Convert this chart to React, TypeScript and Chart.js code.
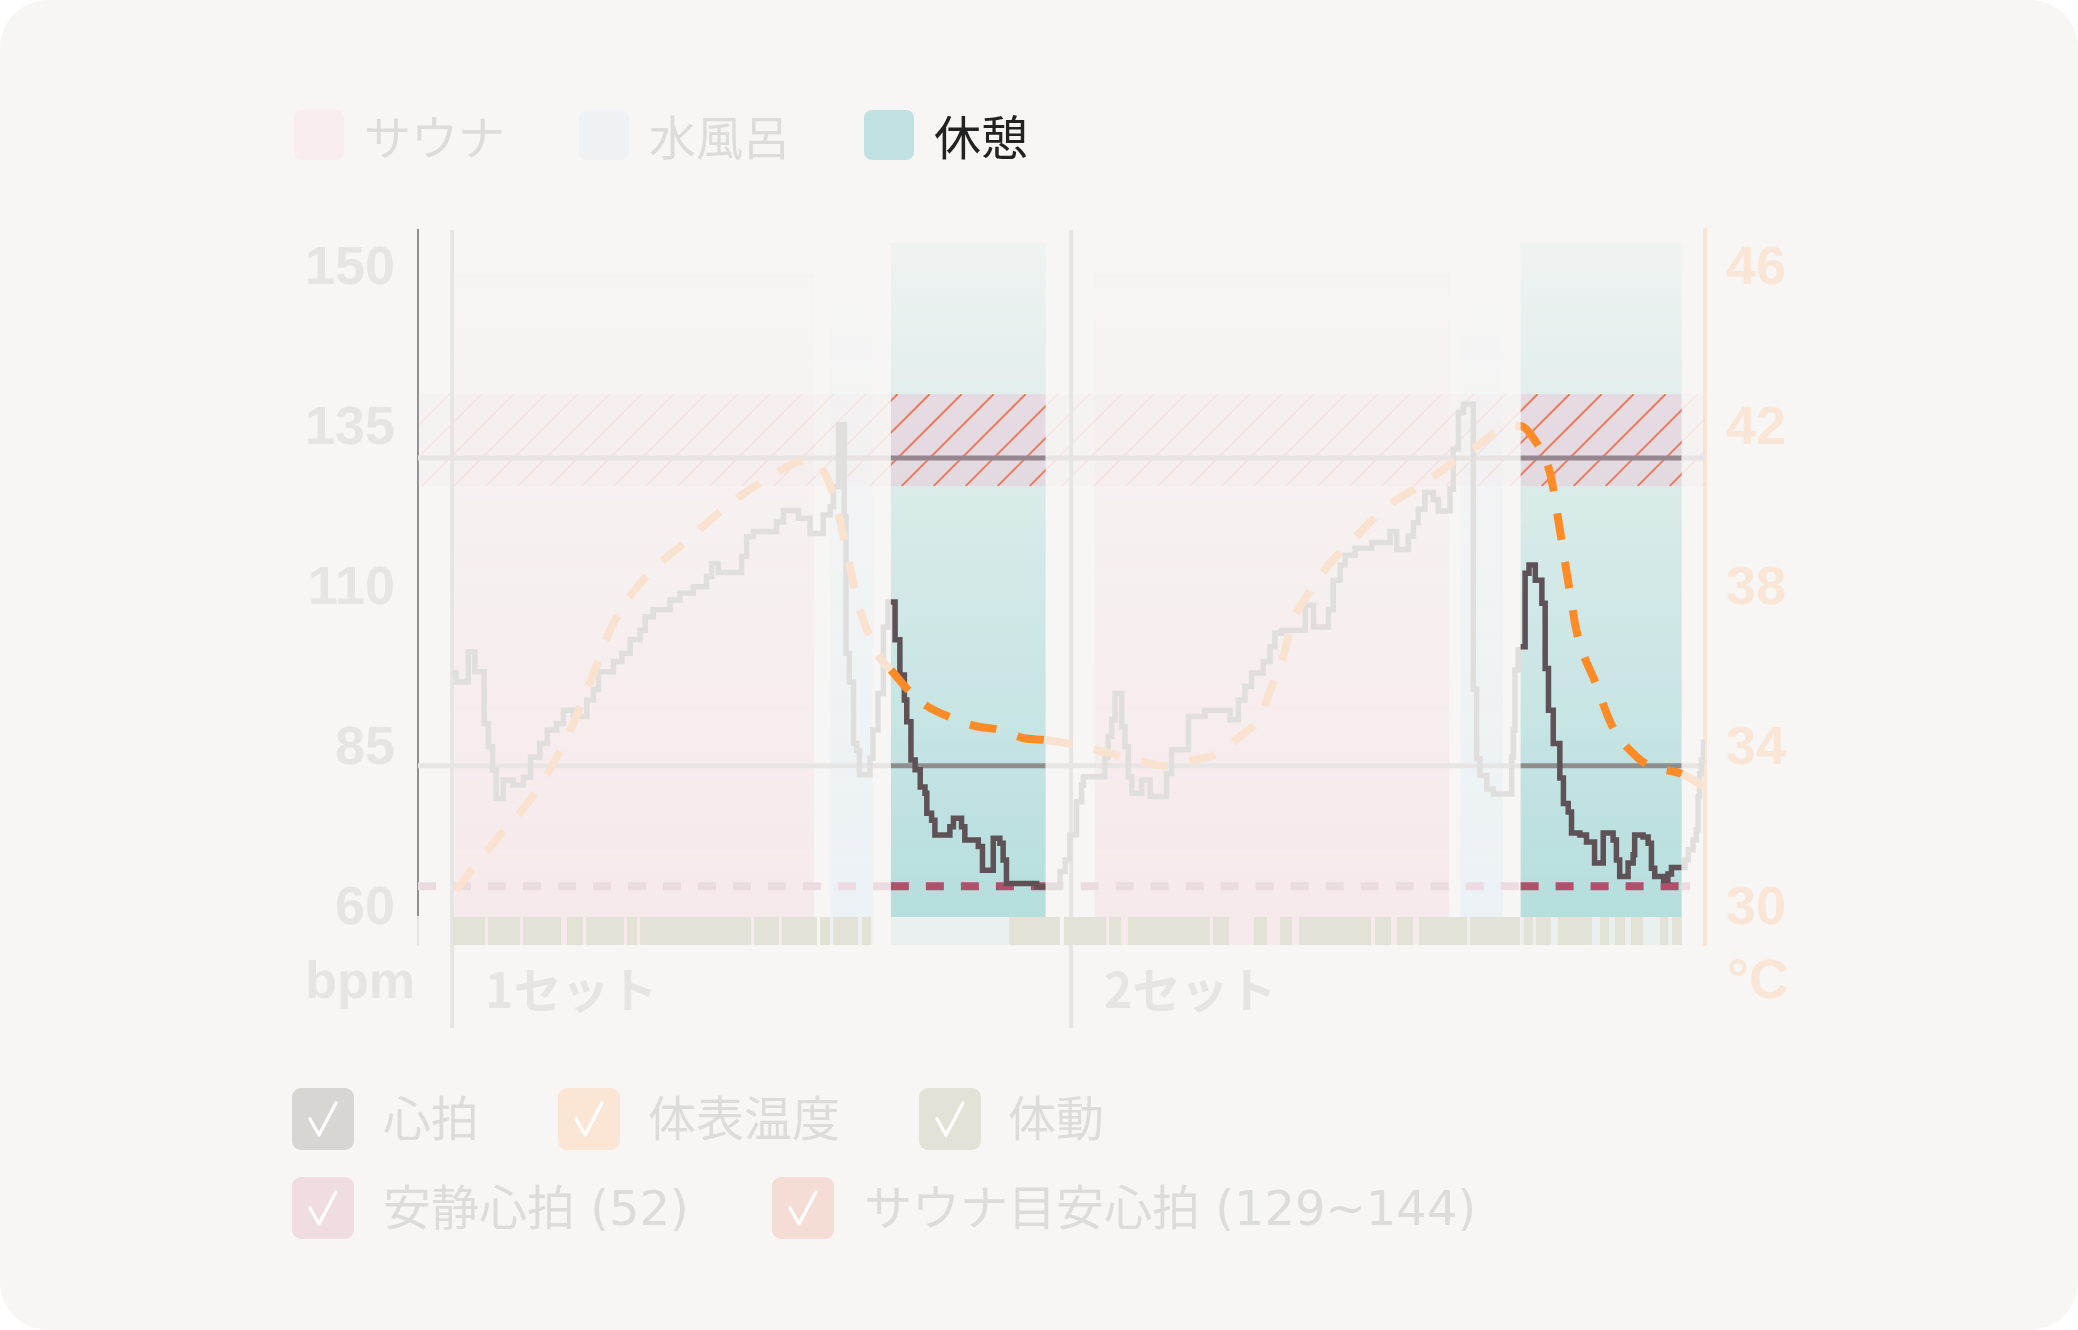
import React, { useEffect, useRef } from 'react';
import Chart from 'chart.js/auto';

// ---------- data ----------
const X_MAX = 43; // minutes shown
const SET_START = [1.14, 21.82];
const SET_LABELS = ['1セット', '2セット'];

const PHASE_KIND = ['sauna', 'water', 'rest', 'sauna', 'water', 'rest'];
const PHASE_START = [1.23, 13.77, 15.8, 22.61, 34.83, 36.84];
const PHASE_END = [13.23, 15.19, 20.97, 34.45, 36.25, 42.22];

const HR_TICK_VALUES = [60, 85, 110, 135, 160];
const HR_TICK_LABELS = ['60', '85', '110', '135', '150'];
const TEMP_TICKS = [30, 34, 38, 42, 46];

const HR_TIME = [
  1.15, 1.27, 1.68, 1.9, 2.21, 2.35, 2.49, 2.61, 2.85, 3.18, 3.52, 3.76, 4.07, 4.32, 4.63, 4.86, 5.19, 5.64, 5.86, 6.03,
  6.53, 6.81, 7.09, 7.42, 7.59, 7.86, 8.42, 8.75, 9.2, 9.64, 9.81, 10.03, 10.81, 10.98, 11.2, 11.98, 12.21, 12.71, 13.1,
  13.54, 13.77, 13.88, 14.05, 14.24, 14.3, 14.41, 14.55, 14.66, 14.75, 15.1, 15.2, 15.37, 15.55, 15.7, 15.8, 15.94, 16.1,
  16.25, 16.33, 16.47, 16.61, 16.78, 16.94, 17.0, 17.16, 17.27, 17.77, 17.89, 18.16, 18.27, 18.72, 18.86, 19.22, 19.44,
  19.55, 19.66, 20.67, 20.97, 21.45, 21.62, 21.78, 22.0, 22.17, 22.23, 22.95, 23.06, 23.18, 23.29, 23.51, 23.62, 23.73,
  23.85, 24.18, 24.46, 25.01, 25.18, 25.74, 26.29, 27.13, 27.41, 27.63, 27.85, 28.24, 28.47, 28.63, 28.86, 29.64, 29.92,
  30.42, 30.58, 30.81, 30.97, 31.31, 31.86, 32.48, 32.7, 33.09, 33.26, 33.42, 33.64, 33.92, 34.09, 34.48, 34.59, 34.76,
  34.93, 35.26, 35.37, 35.48, 35.71, 35.93, 36.54, 36.6, 36.65, 36.76, 36.84, 36.99, 37.12, 37.33, 37.55, 37.66, 37.77,
  37.93, 38.15, 38.27, 38.43, 38.54, 38.82, 39.04, 39.31, 39.6, 39.93, 40.04, 40.15, 40.43, 40.6, 40.65, 40.93, 41.1,
  41.21, 41.32, 41.62, 41.76, 41.88, 42.22, 42.33, 42.44, 42.6, 42.71, 42.77, 42.82, 42.88, 42.95,
];
const HR_BPM = [
  96.5, 95.0, 99.7, 96.6, 88.5, 84.9, 81.3, 76.8, 79.7, 78.9, 80.1, 83.3, 85.4, 87.5, 88.5, 90.6, 89.6, 92.2, 93.8, 96.6,
  98.2, 99.5, 101.6, 103.1, 105.2, 106.3, 107.8, 108.9, 109.9, 111.5, 113.5, 112.1, 114.6, 117.7, 118.5, 120.0, 121.8,
  120.6, 118.2, 121.1, 122.4, 125.5, 135.2, 120.8, 99.5, 95.0, 85.4, 84.3, 80.5, 83.1, 87.5, 93.2, 103.6, 107.5, 107.5,
  101.6, 96.1, 92.2, 88.8, 82.8, 81.3, 78.6, 77.6, 74.5, 73.4, 71.1, 72.4, 73.7, 72.4, 70.3, 69.3, 65.6, 70.6, 69.8, 67.2,
  63.5, 63.0, 63.0, 65.4, 67.2, 71.1, 76.3, 78.9, 80.2, 83.3, 86.5, 89.1, 93.2, 88.0, 84.9, 80.2, 77.6, 79.7, 77.1, 80.7,
  84.4, 89.6, 90.6, 89.1, 92.2, 94.3, 96.4, 98.2, 100.5, 102.6, 103.1, 107.0, 103.6, 106.3, 110.9, 113.3, 114.8, 115.9,
  116.8, 118.5, 115.7, 117.8, 119.9, 122.0, 124.6, 123.5, 121.7, 125.1, 131.4, 137.1, 138.4, 93.9, 83.0, 80.4, 78.3, 77.5,
  83.3, 87.5, 96.9, 100.0, 100.5, 112.0, 113.3, 110.9, 107.3, 97.1, 90.6, 85.4, 80.0, 76.0, 74.7, 71.4, 71.1, 70.0, 66.7,
  71.4, 70.3, 67.2, 64.6, 66.7, 68.0, 71.1, 70.8, 69.8, 65.9, 64.6, 64.0, 65.0, 66.0, 66.0, 67.2, 68.8, 70.3, 71.9, 77.1,
  80.7, 82.8, 86.0,
];

const TEMP_TIME = [
  1.27, 2.54, 3.74, 4.94, 5.78, 6.48, 7.52, 9.02, 10.32, 11.59, 13.03, 13.53, 13.93, 14.37, 14.77, 15.44, 15.8, 16.44,
  17.0, 17.84, 18.61, 19.45, 20.21, 20.97, 21.85, 22.69, 23.45, 24.22, 25.03, 25.89, 26.7, 27.56, 28.13, 28.53, 28.87,
  29.24, 29.57, 30.04, 30.57, 31.24, 31.81, 32.58, 33.24, 34.05, 34.58, 35.38, 35.92, 36.59, 36.84, 37.26, 37.83, 38.13,
  38.43, 38.73, 39.33, 39.9, 40.76, 41.17, 42.22, 42.94,
];
const TEMP_C = [
  30.4, 31.6, 32.65, 34.15, 35.65, 37.0, 38.15, 39.15, 40.0, 40.65, 41.15, 40.9, 40.15, 38.7, 37.4, 36.2, 35.9, 35.35,
  35.0, 34.7, 34.5, 34.4, 34.2, 34.15, 34.05, 33.9, 33.75, 33.6, 33.5, 33.65, 33.8, 34.3, 34.7, 35.5, 36.15, 37.15, 37.6,
  38.15, 38.65, 39.15, 39.6, 40.1, 40.4, 40.8, 41.1, 41.5, 41.8, 42.0, 42.0, 41.7, 40.8, 39.5, 38.1, 36.8, 35.6, 34.5,
  33.7, 33.5, 33.3, 33.0,
];

const RESTING_HR_LINE = 63.1;
const RESTING_HR_SPAN = [0, 42.5];
const SAUNA_TARGET_BAND = [125.6, 140.0];
const GUIDE_LINES = [130.0, 81.9];

const MOTION_START = [
  1.17, 2.34, 3.51, 4.98, 5.61, 6.98, 7.42, 11.23, 12.16, 13.43, 13.87, 14.83, 19.75, 21.58, 23.09, 23.72, 26.56, 27.93,
  28.8, 29.44, 31.97, 32.71, 33.44, 35.15, 36.95, 37.35, 38.09, 39.49, 39.99, 40.53, 41.5, 41.9,
];
const MOTION_END = [
  2.24, 3.41, 4.78, 5.51, 6.88, 7.32, 11.13, 12.06, 13.33, 13.77, 14.7, 15.14, 21.45, 22.99, 23.49, 26.46, 27.1, 28.37,
  29.2, 31.84, 32.51, 33.24, 35.05, 36.82, 37.25, 37.85, 39.22, 39.79, 40.33, 40.93, 41.77, 42.23,
];

const TOP_LEGEND = ['サウナ', '水風呂', '休憩'];
const BOTTOM_LEGEND = ['心拍', '体表温度', '体動', '安静心拍 (52)', 'サウナ目安心拍 (129~144)'];

// ---------- styles ----------
const BG = '#f7f6f4';
const PHASE_STYLE: Record<string, { rgb: string; a0: number; top: number; strip: string }> = {
  sauna: { rgb: '246,233,235', a0: 0.08, top: 158.9, strip: '#f6eaec' },
  water: { rgb: '235,241,245', a0: 0.12, top: 154.2, strip: '#ecf1f4' },
  rest: { rgb: '181,222,221', a0: 0.12, top: 163.6, strip: '#eaf0ef' },
};
const TOP_LEGEND_STYLE = [
  { x: 294, tx: 364, c: '#f8ecee', t: '#dcdcdb' },
  { x: 579, tx: 649, c: '#eef2f5', t: '#dcdcdb' },
  { x: 864, tx: 934, c: '#bfe1e1', t: '#222222' },
];
const BOTTOM_LEGEND_STYLE = [
  { x: 292, y: 1088, tx: 383, c: '#d7d6d3' },
  { x: 558, y: 1088, tx: 648, c: '#fbe6d6' },
  { x: 919, y: 1088, tx: 1008, c: '#e3e2d7' },
  { x: 292, y: 1177, tx: 383, c: '#efdde1' },
  { x: 772, y: 1177, tx: 864, c: '#f5ddd6' },
];

const REST_RANGES: number[][] = PHASE_KIND.map((k, i) => (k === 'rest' ? [PHASE_START[i], PHASE_END[i]] : null)).filter(
  Boolean,
) as number[][];
const inRest = (x: number) => REST_RANGES.some(([a, b]) => x >= a && x < b);
const segColor = (hi: string, lo: string) => (ctx: any) =>
  inRest((ctx.p0.parsed.x + ctx.p1.parsed.x) / 2) ? hi : lo;

const withBounds = (y: number, span: number[]) => {
  const xs = [span[0], ...REST_RANGES.flat().filter((v) => v > span[0] && v < span[1]), span[1]];
  return xs.map((x) => ({ x, y }));
};

function drawBand(ctx: CanvasRenderingContext2D, l: number, r: number, t: number, b: number, fill: string, hatch: string, lw: number) {
  ctx.fillStyle = fill;
  ctx.fillRect(l, t, r - l, b - t);
  ctx.strokeStyle = hatch;
  ctx.lineWidth = lw;
  const h = b - t;
  const spacing = 32;
  const anchor = 481.7;
  const k = Math.floor((l - anchor) / spacing) - 1;
  ctx.beginPath();
  for (let xt = anchor + k * spacing; xt - h < r + spacing; xt += spacing) {
    ctx.moveTo(xt, t);
    ctx.lineTo(xt - h, b);
  }
  ctx.stroke();
}

const bgPlugin = {
  id: 'saunaBackground',
  beforeDatasetsDraw(chart: any) {
    const { ctx, chartArea, scales } = chart;
    const xs = scales.x;
    const yHR = scales.yHR;
    const plotBottom = yHR.bottom;
    const stripBottom = chartArea.bottom;
    ctx.save();
    PHASE_KIND.forEach((k, i) => {
      const st = PHASE_STYLE[k];
      const x0 = xs.getPixelForValue(PHASE_START[i]);
      const x1 = xs.getPixelForValue(PHASE_END[i]);
      const top = yHR.getPixelForValue(st.top);
      const g = ctx.createLinearGradient(0, top, 0, plotBottom);
      g.addColorStop(0, `rgba(${st.rgb},${st.a0})`);
      g.addColorStop(1, `rgba(${st.rgb},1)`);
      ctx.fillStyle = g;
      ctx.fillRect(x0, top, x1 - x0, plotBottom - top);
      ctx.fillStyle = st.strip;
      ctx.fillRect(x0, plotBottom, x1 - x0, stripBottom - plotBottom);
    });

    const bTop = yHR.getPixelForValue(SAUNA_TARGET_BAND[1]);
    const bBot = yHR.getPixelForValue(SAUNA_TARGET_BAND[0]);
    const left = chartArea.left;
    const right = chartArea.right;
    const restPx = REST_RANGES.map(([a, b]) => [xs.getPixelForValue(a), xs.getPixelForValue(b)]);
    ctx.save();
    ctx.beginPath();
    ctx.rect(left, bTop, right - left, bBot - bTop);
    restPx.forEach(([a, b]) => ctx.rect(a, bTop, b - a, bBot - bTop));
    ctx.clip('evenodd');
    drawBand(ctx, left, right, bTop, bBot, 'rgba(240,215,222,0.13)', 'rgba(236,140,105,0.13)', 1.5);
    ctx.restore();
    restPx.forEach(([a, b]) => {
      ctx.save();
      ctx.beginPath();
      ctx.rect(a, bTop, b - a, bBot - bTop);
      ctx.clip();
      drawBand(ctx, a, b, bTop, bBot, 'rgba(236,200,215,0.5)', '#ec7b5c', 2);
      ctx.restore();
    });

    ctx.strokeStyle = '#e6e5e3';
    ctx.lineWidth = 4;
    SET_START.forEach((s) => {
      const px = xs.getPixelForValue(s);
      ctx.beginPath();
      ctx.moveTo(px, chartArea.top);
      ctx.lineTo(px, chartArea.bottom + 83);
      ctx.stroke();
    });
    ctx.restore();
  },
  afterDraw(chart: any) {
    const { ctx, chartArea } = chart;
    ctx.save();
    ctx.font = 'bold 52px "Liberation Sans", Arial, sans-serif';
    ctx.textBaseline = 'alphabetic';
    ctx.fillStyle = '#e6e5e3';
    ctx.textAlign = 'right';
    ctx.fillText('bpm', chartArea.left - 3, chartArea.bottom + 53);
    ctx.fillStyle = '#f9e6d6';
    ctx.textAlign = 'left';
    ctx.font = 'bold 55px "Liberation Sans", Arial, sans-serif';
    ctx.fillText('°C', chartArea.right + 22, chartArea.bottom + 53);
    ctx.restore();
  },
};

function Check() {
  return (
    <svg width="62" height="62" viewBox="0 0 62 62" style={{ position: 'absolute', left: 0, top: 0 }}>
      <polyline points="18,31 27,47 44,15" fill="none" stroke="#ffffff" strokeWidth="3.2" strokeLinejoin="round" strokeLinecap="round" />
    </svg>
  );
}

export default function App() {
  const canvasRef = useRef<HTMLCanvasElement | null>(null);

  useEffect(() => {
    if (!canvasRef.current) return;
    const motionData: { x: number; y: number }[] = [];
    MOTION_START.forEach((s, i) => {
      motionData.push({ x: s, y: 1 });
      motionData.push({ x: MOTION_END[i], y: 0 });
    });
    const chart = new Chart(canvasRef.current, {
      type: 'line',
      data: {
        datasets: [
          {
            label: '体表温度',
            yAxisID: 'yTemp',
            data: TEMP_TIME.map((t, i) => ({ x: t, y: TEMP_C[i] })),
            borderColor: '#f9e3d0',
            borderWidth: 8,
            borderDash: [27, 22],
            borderCapStyle: 'butt',
            cubicInterpolationMode: 'monotone',
            pointRadius: 0,
            fill: false,
            segment: { borderColor: segColor('#ff8b26', '#f9e3d0') },
          } as any,
          {
            label: '心拍',
            yAxisID: 'yHR',
            data: HR_TIME.map((t, i) => ({ x: t, y: HR_BPM[i] })),
            stepped: 'before',
            borderColor: '#e0dfdd',
            borderWidth: 5.5,
            borderJoinStyle: 'miter',
            borderCapStyle: 'butt',
            pointRadius: 0,
            fill: false,
            segment: { borderColor: segColor('#5e5256', '#e0dfdd') },
          } as any,
          {
            label: '安静心拍',
            yAxisID: 'yHR',
            data: withBounds(RESTING_HR_LINE, RESTING_HR_SPAN),
            borderColor: '#ecdce1',
            borderWidth: 8,
            borderDash: [18, 17],
            borderCapStyle: 'butt',
            pointRadius: 0,
            fill: false,
            segment: { borderColor: segColor('#b44f6b', '#ecdce1') },
          } as any,
          {
            label: 'guideHigh',
            yAxisID: 'yHR',
            data: withBounds(GUIDE_LINES[0], [0, X_MAX]),
            borderColor: '#e8e4e3',
            borderWidth: 5,
            pointRadius: 0,
            fill: false,
            segment: { borderColor: segColor('#958690', '#e8e4e3') },
          } as any,
          {
            label: 'guideLow',
            yAxisID: 'yHR',
            data: withBounds(GUIDE_LINES[1], [0, X_MAX]),
            borderColor: '#e8e6e4',
            borderWidth: 5,
            pointRadius: 0,
            fill: false,
            segment: { borderColor: segColor('#8e8e8e', '#e8e6e4') },
          } as any,
          {
            label: '体動',
            yAxisID: 'yMotion',
            data: motionData,
            stepped: 'before',
            borderWidth: 0,
            borderColor: 'rgba(0,0,0,0)',
            backgroundColor: '#e3e2d7',
            pointRadius: 0,
            fill: 'origin',
          } as any,
        ],
      },
      options: {
        responsive: false,
        maintainAspectRatio: false,
        animation: false,
        events: [],
        layout: { padding: { top: 230, left: 0, right: 0, bottom: 0 } },
        plugins: { legend: { display: false }, tooltip: { enabled: false }, title: { display: false } },
        scales: {
          x: {
            type: 'linear',
            min: 0,
            max: X_MAX,
            grid: { display: false, drawTicks: false },
            border: { display: false },
            afterBuildTicks: (s: any) => {
              s.ticks = SET_START.map((v) => ({ value: v }));
            },
            afterFit: (s: any) => {
              s.height = 385;
            },
            ticks: {
              autoSkip: false,
              maxRotation: 0,
              align: 'start',
              labelOffset: 33,
              padding: 16,
              color: '#e6e5e3',
              font: { family: '"Noto Sans CJK JP", sans-serif', size: 48, weight: 'bold' },
              callback: (_v: any, i: number) => SET_LABELS[i],
            },
          },
          yHR: {
            type: 'linear',
            position: 'left',
            stack: 'left',
            stackWeight: 687,
            weight: 1,
            z: 1,
            min: 60 - 11 / 6.4,
            max: 60 + 676 / 6.4,
            grid: { display: false, drawTicks: false },
            border: { display: true, color: '#8f8f8f', width: 2 },
            afterBuildTicks: (s: any) => {
              s.ticks = HR_TICK_VALUES.map((v) => ({ value: v }));
            },
            afterFit: (s: any) => {
              s.width = 418;
            },
            ticks: {
              padding: 23,
              labelOffset: 3,
              color: '#e6e5e3',
              font: { family: '"Liberation Sans", Arial, sans-serif', size: 54, weight: 'bold' },
              callback: (_v: any, i: number) => HR_TICK_LABELS[i],
            },
          },
          yMotion: {
            type: 'linear',
            position: 'left',
            stack: 'left',
            stackWeight: 28,
            weight: 0,
            z: 1,
            min: 0,
            max: 1,
            grid: { display: false, drawTicks: false },
            border: { display: true, color: '#e4e3e1', width: 2 },
            ticks: { display: false },
            afterFit: (s: any) => {
              s.width = 418;
            },
          },
          yTemp: {
            type: 'linear',
            position: 'right',
            z: 1,
            min: 30 - 39 / 40,
            max: 30 + 676 / 40,
            grid: { display: false, drawTicks: false },
            border: { display: true, color: '#f9e5d4', width: 4 },
            afterBuildTicks: (s: any) => {
              s.ticks = TEMP_TICKS.map((v) => ({ value: v }));
            },
            afterFit: (s: any) => {
              s.width = 373;
            },
            ticks: {
              padding: 21,
              labelOffset: 3,
              color: '#f9e6d6',
              font: { family: '"Liberation Sans", Arial, sans-serif', size: 54, weight: 'bold' },
              callback: (v: any) => String(v),
            },
          },
        },
      } as any,
      plugins: [bgPlugin],
    });
    return () => chart.destroy();
  }, []);

  const font = '"Noto Sans CJK JP", "Noto Sans", sans-serif';
  const legendFont = '"DejaVu Sans", "Noto Sans CJK JP", sans-serif';
  return (
    <div style={{ position: 'fixed', left: 0, top: 0, width: 2078, height: 1330, background: '#ffffff', overflow: 'hidden' }}>
      <div style={{ position: 'absolute', left: 0, top: 0, width: 2078, height: 1330, background: BG, borderRadius: 48 }} />
      <canvas
        ref={canvasRef}
        width={2078}
        height={1330}
        style={{ position: 'absolute', left: 0, top: 0, width: 2078, height: 1330 }}
      />
      {TOP_LEGEND.map((label, i) => {
        const st = TOP_LEGEND_STYLE[i];
        return (
          <React.Fragment key={label}>
            <div style={{ position: 'absolute', left: st.x, top: 110, width: 50, height: 50, borderRadius: 8, background: st.c }} />
            <div
              style={{
                position: 'absolute',
                left: st.tx,
                top: 110,
                height: 50,
                lineHeight: '50px',
                fontSize: 47,
                fontFamily: font,
                color: st.t,
                whiteSpace: 'nowrap',
              }}
            >
              {label}
            </div>
          </React.Fragment>
        );
      })}
      {BOTTOM_LEGEND.map((label, i) => {
        const st = BOTTOM_LEGEND_STYLE[i];
        return (
          <React.Fragment key={label}>
            <div style={{ position: 'absolute', left: st.x, top: st.y, width: 62, height: 62, borderRadius: 9, background: st.c }}>
              <Check />
            </div>
            <div
              style={{
                position: 'absolute',
                left: st.tx,
                top: st.y,
                height: 62,
                lineHeight: '62px',
                fontSize: 48,
                fontFamily: legendFont,
                color: '#dcdcdb',
                whiteSpace: 'nowrap',
              }}
            >
              {label}
            </div>
          </React.Fragment>
        );
      })}
    </div>
  );
}
